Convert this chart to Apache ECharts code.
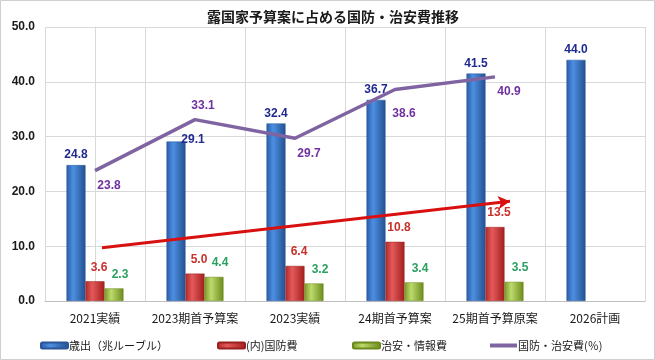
<!DOCTYPE html>
<html><head><meta charset="utf-8">
<script src="https://cdn.jsdelivr.net/npm/echarts@6/dist/echarts.min.js"></script>
<style>html,body{margin:0;padding:0;background:#fff}#c{width:655px;height:360px}</style>
</head><body><div id="c"></div>
<script>
const categories = ['2021実績','2023期首予算案','2023実績','24期首予算案','25期首予算原案','2026計画'];
const spending = [24.8, 29.1, 32.4, 36.7, 41.5, 44.0];
const defense = [3.6, 5.0, 6.4, 10.8, 13.5, null];
const security = [2.3, 4.4, 3.2, 3.4, 3.5, null];
const sharePct = [23.8, 33.1, 29.7, 38.6, 40.9, null];
const yTicks = [0, 10, 20, 30, 40, 50];
// trend arrow, in (category position, value) units
const trendStart = [0.07, 9.7];
const trendEnd = [4.15, 18.2];

const FONT = '"Noto Sans CJK JP", "Noto Sans", sans-serif';
function grad(a, b, c) {
  return new echarts.graphic.LinearGradient(0, 0, 1, 0, [
    {offset: 0, color: a}, {offset: 0.35, color: b}, {offset: 1, color: c}]);
}
const chart = echarts.init(document.getElementById('c'));
const numLabel = {fontFamily: 'Arial, "Liberation Sans"', fontWeight: 'bold', fontSize: 12};
// label placement for the % line: above for the peak at index 1, below-right elsewhere
const pctLabelPos = i => i === 1 ? [8, -14] : (i === 3 ? [9, 24] : [14, 15]);

chart.setOption({
  animation: false,
  backgroundColor: '#fff',
  graphic: [{type: 'rect', shape: {x: 0.5, y: 0.5, width: 654, height: 359}, style: {fill: 'none', stroke: '#cfcfcf', lineWidth: 1}}],
  title: {text: '露国家予算案に占める国防・治安費推移', left: 202, top: 5,
    textStyle: {fontFamily: FONT, fontSize: 14, fontWeight: 'bold', color: '#1a1a1a'}},
  legend: [
    {data: ['歳出（兆ルーブル）'], left: 35, top: 335},
    {data: ['(内)国防費'], left: 212, top: 335},
    {data: ['治安・情報費'], left: 347, top: 335},
    {data: [{name: '国防・治安費(％)', icon: 'rect', itemStyle: {color: '#8064a2'}}], left: 485, top: 335, itemHeight: 4}
  ].map(l => Object.assign({itemWidth: 27, itemHeight: 6, itemGap: 0,
    textStyle: {fontFamily: FONT, fontSize: 11, color: '#1a1a1a', padding: [0, 0, 0, -4]}}, l)),
  grid: {left: 45, right: 10, top: 27, bottom: 59},
  xAxis: [
    {type: 'category', data: categories,
      axisLine: {lineStyle: {color: '#bfbfbf'}}, axisTick: {show: false},
      splitLine: {show: true, lineStyle: {color: '#d9d9d9'}},
      axisLabel: {fontFamily: FONT, fontSize: 12, color: '#1a1a1a', margin: 11, interval: 0}},
    {type: 'value', min: -0.5, max: categories.length - 0.5, show: false}
  ],
  yAxis: {type: 'value', min: yTicks[0], max: yTicks[yTicks.length - 1], interval: 10,
    axisLine: {show: true, lineStyle: {color: '#d9d9d9'}},
    splitLine: {lineStyle: {color: '#d9d9d9'}},
    axisLabel: {formatter: v => v.toFixed(1), fontFamily: 'Arial, "Liberation Sans"', fontWeight: 'bold', fontSize: 12, color: '#1a1a1a', margin: 10}},
  series: [
    {name: '歳出（兆ルーブル）', type: 'bar', data: spending.map((v, i) => i === 1 ? {value: v, label: {offset: [17, 8]}} : v),
      barWidth: 19, barGap: '0%',
      itemStyle: {color: grad('#2a5ba6', '#4d8fe2', '#22508f'), borderColor: '#2a5598', borderWidth: 0.5},
      label: Object.assign({show: true, position: 'top', color: '#1f2a8f', distance: 4, formatter: p => p.value.toFixed(1)}, numLabel)},
    {name: '(内)国防費', type: 'bar', data: defense,
      barWidth: 19, barGap: '0%',
      itemStyle: {color: grad('#b02828', '#e45a5a', '#a21e1e'), borderColor: '#9a2020', borderWidth: 0.5},
      label: Object.assign({show: true, position: 'top', color: '#c8302c', distance: 6, offset: [4, -2], formatter: p => p.value == null ? '' : p.value.toFixed(1)}, numLabel)},
    {name: '治安・情報費', type: 'bar', data: security,
      barWidth: 19, barGap: '0%',
      itemStyle: {color: grad('#7a9a26', '#bddb6c', '#6c8a1c'), borderColor: '#6c8a1c', borderWidth: 0.5},
      label: Object.assign({show: true, position: 'top', color: '#2aa060', distance: 6, offset: [6, -2], formatter: p => p.value == null ? '' : p.value.toFixed(1)}, numLabel)},
    {name: 'trend', type: 'line', xAxisIndex: 1, data: [], silent: true, z: 6,
      markLine: {silent: true, symbol: ['none', 'arrow'], symbolSize: [10, 12],
        lineStyle: {color: '#d8100f', width: 3, type: 'solid'}, label: {show: false},
        data: [[{coord: trendStart}, {coord: trendEnd}]]}},
    {name: '国防・治安費(％)', type: 'line',
      data: sharePct.map((v, i) => v == null ? v : {value: v, label: {position: pctLabelPos(i)}}),
      symbol: 'circle', symbolSize: 0, showSymbol: true, z: 5,
      lineStyle: {color: '#8064a2', width: 3.5},
      itemStyle: {color: '#8064a2'},
      labelLayout: {hideOverlap: false},
      label: Object.assign({show: true, align: 'center', verticalAlign: 'middle', color: '#7030a0', formatter: p => p.value == null ? '' : p.value.toFixed(1)}, numLabel)}
  ]
});
</script></body></html>
